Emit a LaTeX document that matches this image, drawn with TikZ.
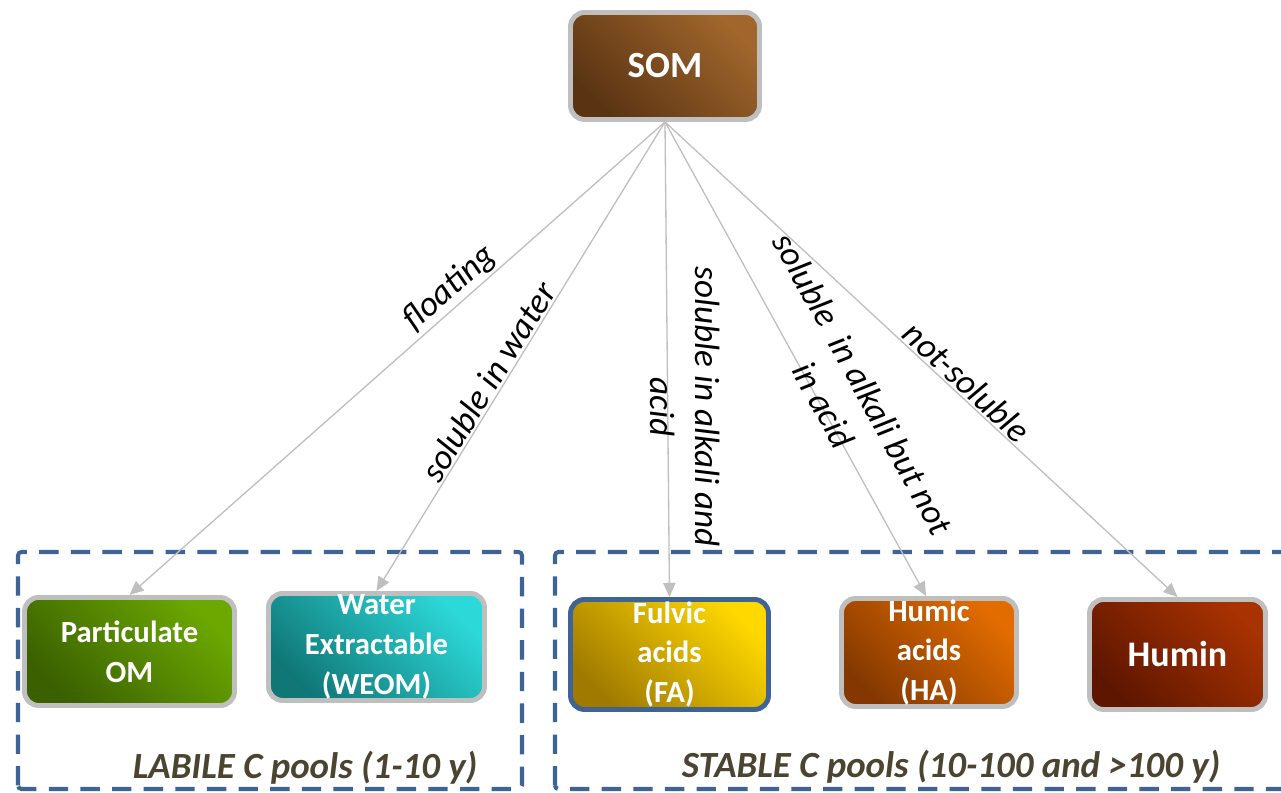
\documentclass[tikz,border=0pt]{standalone}
\usepackage{fontspec}
\setmainfont{Carlito}
\usetikzlibrary{arrows.meta}

\definecolor{boxgray}{HTML}{BFBFBF}
\definecolor{frameblue}{HTML}{3E6394}
\definecolor{labelolive}{HTML}{4A4430}
\definecolor{somdark}{HTML}{5A3412}  \definecolor{somlight}{HTML}{A0662C}
\definecolor{pomdark}{HTML}{3A6000}  \definecolor{pomlight}{HTML}{6CA800}
\definecolor{weomdark}{HTML}{107676} \definecolor{weomlight}{HTML}{2CD8D8}
\definecolor{fadark}{HTML}{A07A00}   \definecolor{falight}{HTML}{FFD800}
\definecolor{hadark}{HTML}{843800}   \definecolor{halight}{HTML}{E26C00}
\definecolor{hudark}{HTML}{5E1600}   \definecolor{hulight}{HTML}{A83200}

\tikzset{
  pool/.style={draw=boxgray, line width=2.8pt, rounded corners=8pt, inner sep=0pt,
    text=white, align=center, font=\bfseries\fontsize{17.5}{22.7}\selectfont},
  grad/.style 2 args={top color=#2, bottom color=#1, shading angle=-45},
  link/.style={draw=boxgray, line width=.75pt, -{Triangle[length=8pt,width=7pt]}},
  lbl/.style={font=\itshape\fontsize{20}{25.5}\selectfont, inner sep=1pt},
  poolframe/.style={draw=frameblue, line width=2.3pt, dash pattern=on 11pt off 7pt, rounded corners=2pt},
  poolnote/.style={text=labelolive, font=\bfseries\itshape\fontsize{21}{25}\selectfont}
}

\begin{document}
\begin{tikzpicture}
	\useasboundingbox (0,0) rectangle (25.62,15.86);
	
	\draw[poolframe] (0.36,0.08) rectangle (10.44,4.82);
	\draw[poolframe] (11.10,0.08) rectangle (26.40,4.82);
	\node[poolnote] (labile) at (6.10,0.50) {LABILE C pools (1-10 y)};
	\node[poolnote] (stable) at (19.02,0.52) {STABLE C pools (10-100 and >100 y)};
	
	\node[pool, grad={somdark}{somlight}, minimum width=3.78cm, minimum height=2.14cm,
	  font=\bfseries\fontsize{21}{25}\selectfont] (som) at (13.30,14.54) {SOM};
	
	\node[pool, grad={pomdark}{pomlight}, minimum width=4.20cm, minimum height=2.16cm] (pom) at (2.59,2.83) {Particulate\\OM};
	\node[pool, grad={weomdark}{weomlight}, minimum width=4.32cm, minimum height=2.14cm] (weom) at (7.53,2.92) {Water\\Extractable\\(WEOM)};
	\node[pool, draw=frameblue, grad={fadark}{falight}, minimum width=3.96cm, minimum height=2.20cm] (fa) at (13.39,2.77) {Fulvic\\acids\\(FA)};
	\node[pool, grad={hadark}{halight}, minimum width=3.50cm, minimum height=2.16cm] (ha) at (18.58,2.81) {Humic\\acids\\(HA)};
	\node[pool, grad={hudark}{hulight}, minimum width=3.52cm, minimum height=2.20cm,
	  font=\bfseries\fontsize{20.5}{25}\selectfont] (hu) at (23.55,2.77) {Humin};
	
	\draw[link] (som.south) -- (pom.north) node[lbl, sloped, above, pos=.38] {floating};
	\draw[link] (som.south) -- (weom.north) node[lbl, sloped, above, pos=.57] {soluble in water};
	\draw[link] (som.south) -- (fa.north) node[lbl, pos=.6, xshift=.34cm, rotate=-90, align=center] {soluble in alkali and\\acid};
	\draw[link] (som.south) -- (ha.93) node[lbl, pos=.6, xshift=.44cm, yshift=.24cm, rotate=-61.4, align=center] {soluble\ \ in alkali but not\\in acid};
	\draw[link] (som.south) -- (hu.north) node[lbl, sloped, above, pos=.57] {not-soluble};
\end{tikzpicture}
\end{document}
